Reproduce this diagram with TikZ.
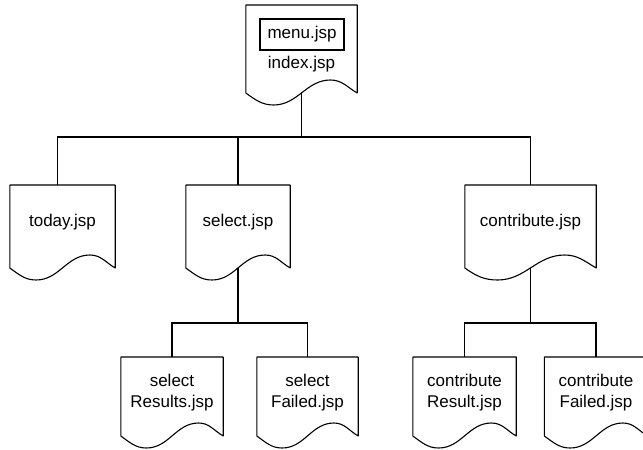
\documentclass[tikz,border=0pt]{standalone}
\usepackage{fontspec}
\setmainfont{Liberation Sans}
\usetikzlibrary{calc}

\tikzset{
  page/.style={minimum width=#1, minimum height=74pt, inner sep=0pt, anchor=north, align=center},
  pageline/.style={line width=1.1pt, line join=round},
  link/.style={line width=1.1pt},
}

\begin{document}
\begin{tikzpicture}[x=1pt, y=1pt, every node/.style={font=\fontsize{17}{21}\selectfont}]
    \useasboundingbox (0,0) rectangle (643,-450);

    % Paginas
    \node[page=111pt, minimum height=118pt] (index) at (301.5,-5) {index.jsp};
    \node[draw, line width=1.1pt, minimum width=84pt, minimum height=31pt, inner sep=0pt] (menu) at (302,-34.5) {menu.jsp};
    \node[page=105pt] (today) at (62.5,-185) {today.jsp};
    \node[page=104pt] (select) at (238,-185) {select.jsp};
    \node[page=131pt] (contrib) at (530.5,-185) {contribute.jsp};
    \node[page=102pt, minimum height=71pt] (selres) at (172,-357) {select\\Results.jsp};
    \node[page=101pt, minimum height=71pt] (selfail) at (307.5,-357) {select\\Failed.jsp};
    \node[page=103pt, minimum height=71pt] (conres) at (464.5,-357) {contribute\\Result.jsp};
    \node[page=103pt, minimum height=71pt] (confail) at (596,-357) {contribute\\Failed.jsp};

    % Contornos das paginas
    \foreach \n/\h in {index/88, today/83, select/83, contrib/83, selres/79, selfail/79, conres/79, confail/79} {
        \coordinate (\n-base) at ($(\n.north)+(0,-\h)$);
        \draw[pageline] ($(\n.north west)+(0,-\h)$) -- (\n.north west) -- (\n.north east) -- ($(\n.north east)+(0,-\h)$)
            to[out=150, in=0] ($(\n.north west)!0.76!(\n.north east)+(0,13-\h)$)
            to[out=180, in=0] ($(\n.north west)!0.25!(\n.north east)+(0,-12-\h)$)
            to[out=180, in=-35] ($(\n.north west)+(0,-\h)$) -- cycle;
    }

    % Ligacoes
    \coordinate (top fork) at (index-base |- 0,-137);
    \draw[link] (index-base) -- (top fork);
    \draw[link] ([xshift=-5pt]today.north) |- (top fork) -| (contrib.north);
    \draw[link] (select.north) -- (select.north |- top fork);

    \coordinate (select fork) at (select-base |- 0,-323);
    \draw[link] (select-base) -- (select fork);
    \draw[link] (selres.north) |- (select fork) -| (selfail.north);

    \coordinate (contrib fork) at (contrib-base |- 0,-323);
    \draw[link] (contrib-base) -- (contrib fork);
    \draw[link] (conres.north) |- (contrib fork) -| (confail.north);
\end{tikzpicture}
\end{document}
